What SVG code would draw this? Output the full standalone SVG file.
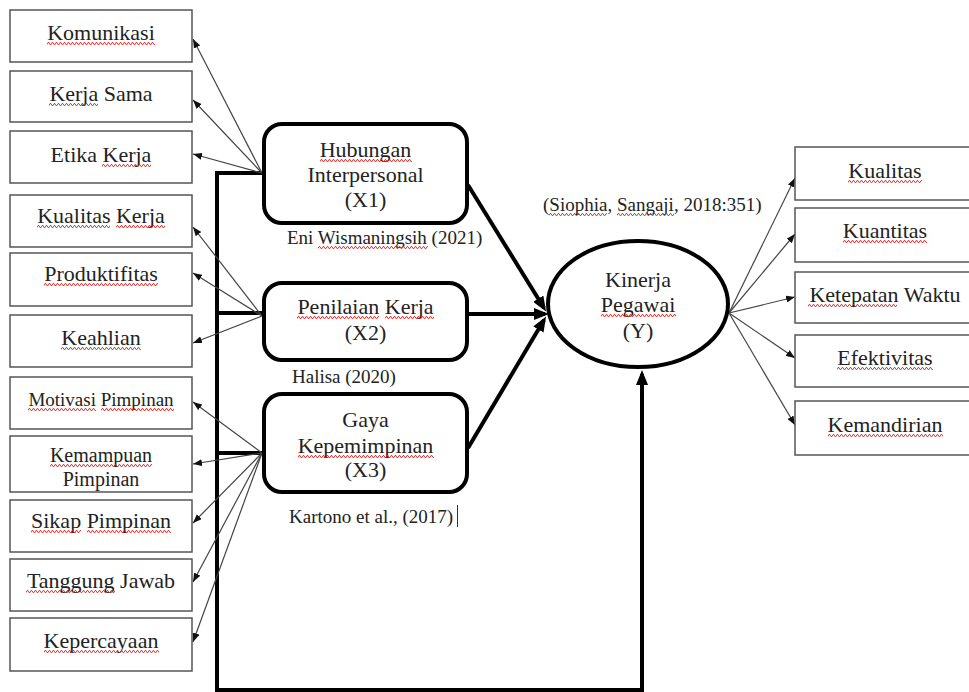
<svg xmlns="http://www.w3.org/2000/svg" width="969" height="692" viewBox="0 0 969 692">
<style>
text{font-family:"Liberation Serif","Times New Roman",serif;fill:#222;}
.t22{font-size:22px;text-anchor:middle;}
.t20{font-size:20px;text-anchor:middle;}
.t19{font-size:19px;}
.t19m{font-size:19px;text-anchor:middle;}
.ibox{fill:#fff;stroke:#555;stroke-width:1.5;}
.vbox{fill:#fff;stroke:#000;stroke-width:4;}
.thin{stroke:#444;stroke-width:1.2;fill:none;marker-end:url(#ah);}
.thick{stroke:#000;stroke-width:4;fill:none;}
.thicka{stroke:#000;stroke-width:4;fill:none;marker-end:url(#AH);}
.sq{fill:url(#sq);}
</style>
<defs>
<marker id="ah" markerUnits="userSpaceOnUse" markerWidth="9" markerHeight="7" refX="9" refY="3.5" orient="auto"><path d="M0,0 L9,3.5 L0,7 z" fill="#111"/></marker>
<marker id="AH" markerUnits="userSpaceOnUse" markerWidth="15" markerHeight="12" refX="11" refY="6" orient="auto"><path d="M0,0 L15,6 L0,12 z" fill="#000"/></marker>
<pattern id="sq" patternUnits="userSpaceOnUse" width="4" height="3"><polyline points="0,2.6 1,0.6 2,0.6 3,2.6 4,2.6" fill="none" stroke="#e02020" stroke-width="0.9"/></pattern>
<clipPath id="kc"><rect x="10" y="436" width="182" height="56"/></clipPath>
</defs>

<g id="connectors">
<path class="thick" d="M264,173 H217 V690 H642 V380"/>
<path class="thicka" d="M642,386 V374"/>
<line class="thick" x1="217" y1="313" x2="264" y2="313"/>
<line class="thick" x1="217" y1="453" x2="264" y2="453"/>
<line class="thicka" x1="468" y1="185" x2="544" y2="308"/>
<line class="thicka" x1="468" y1="314" x2="545" y2="314"/>
<line class="thicka" x1="468" y1="448" x2="544" y2="320"/>
<line class="thin" x1="262" y1="173" x2="193" y2="39"/>
<line class="thin" x1="262" y1="173" x2="193" y2="100"/>
<line class="thin" x1="262" y1="173" x2="193" y2="154"/>
<line class="thin" x1="262" y1="316" x2="193" y2="227"/>
<line class="thin" x1="262" y1="316" x2="193" y2="273"/>
<line class="thin" x1="262" y1="316" x2="193" y2="343"/>
<line class="thin" x1="262" y1="453" x2="193" y2="402"/>
<line class="thin" x1="262" y1="453" x2="193" y2="464"/>
<line class="thin" x1="262" y1="453" x2="193" y2="523"/>
<line class="thin" x1="262" y1="453" x2="193" y2="582"/>
<line class="thin" x1="262" y1="453" x2="193" y2="642"/>
<line class="thin" x1="729" y1="313" x2="795" y2="178"/>
<line class="thin" x1="729" y1="313" x2="795" y2="234"/>
<line class="thin" x1="729" y1="313" x2="795" y2="297"/>
<line class="thin" x1="729" y1="313" x2="795" y2="358"/>
<line class="thin" x1="729" y1="313" x2="795" y2="425"/>
</g>

<g id="n-komunikasi"><rect class="ibox" x="10" y="10" width="182" height="52"/><text class="t22" x="101" y="40">Komunikasi</text><rect class="sq" transform="translate(47,42)" width="108" height="3"/></g>
<g id="n-kerjasama"><rect class="ibox" x="10" y="71" width="182" height="51"/><text class="t22" x="101" y="101">Kerja Sama</text><rect class="sq" transform="translate(49,103)" width="49" height="3"/></g>
<g id="n-etika"><rect class="ibox" x="10" y="131" width="182" height="52"/><text class="t22" x="101" y="162">Etika Kerja</text><rect class="sq" transform="translate(102,164)" width="49" height="3"/></g>
<g id="n-kualitaskerja"><rect class="ibox" x="10" y="195" width="182" height="52"/><text class="t22" x="101" y="223">Kualitas Kerja</text><rect class="sq" transform="translate(37,225)" width="73" height="3"/><rect class="sq" transform="translate(116,225)" width="49" height="3"/></g>
<g id="n-produktifitas"><rect class="ibox" x="10" y="253" width="182" height="53"/><text class="t22" x="101" y="281">Produktifitas</text><rect class="sq" transform="translate(44,283)" width="114" height="3"/></g>
<g id="n-keahlian"><rect class="ibox" x="10" y="315" width="182" height="52"/><text class="t22" x="101" y="345">Keahlian</text><rect class="sq" transform="translate(61,347)" width="80" height="3"/></g>
<g id="n-motivasi"><rect class="ibox" x="10" y="377" width="182" height="52"/><text class="t19m" x="101" y="406">Motivasi Pimpinan</text><rect class="sq" transform="translate(28,408)" width="68" height="3"/><rect class="sq" transform="translate(101,408)" width="73" height="3"/></g>
<g id="n-kemampuan"><rect class="ibox" x="10" y="436" width="182" height="56"/><g clip-path="url(#kc)"><text class="t20" x="101" y="462">Kemampuan</text><text class="t20" x="101" y="486">Pimpinan</text></g><rect class="sq" transform="translate(50,464)" width="102" height="3"/></g>
<g id="n-sikap"><rect class="ibox" x="10" y="500" width="182" height="52"/><text class="t22" x="101" y="528">Sikap Pimpinan</text><rect class="sq" transform="translate(31,530)" width="50" height="3"/><rect class="sq" transform="translate(87,530)" width="84" height="3"/></g>
<g id="n-tanggung"><rect class="ibox" x="10" y="559" width="182" height="52"/><text class="t22" x="101" y="588">Tanggung Jawab</text><rect class="sq" transform="translate(26,590)" width="89" height="3"/></g>
<g id="n-kepercayaan"><rect class="ibox" x="10" y="618" width="182" height="53"/><text class="t22" x="101" y="648">Kepercayaan</text><rect class="sq" transform="translate(44,650)" width="115" height="3"/></g>

<g id="n-x1"><rect class="vbox" x="264" y="124" width="203" height="99" rx="18"/><text class="t22" x="365.5" y="157">Hubungan</text><text class="t22" x="365.5" y="182">Interpersonal</text><text class="t22" x="365.5" y="207">(X1)</text><rect class="sq" transform="translate(320,159)" width="92" height="3"/></g>
<g id="n-x2"><rect class="vbox" x="264" y="283" width="203" height="77" rx="18"/><text class="t22" x="365.5" y="314">Penilaian Kerja</text><text class="t22" x="365.5" y="340">(X2)</text><rect class="sq" transform="translate(297,316)" width="82" height="3"/><rect class="sq" transform="translate(385,316)" width="49" height="3"/></g>
<g id="n-x3"><rect class="vbox" x="264" y="394" width="203" height="98" rx="18"/><text class="t22" x="365.5" y="427">Gaya</text><text class="t22" x="365.5" y="453">Kepemimpinan</text><text class="t22" x="365.5" y="477">(X3)</text><rect class="sq" transform="translate(298,455)" width="136" height="3"/></g>

<g id="labels">
<text class="t19" x="287" y="244">Eni Wismaningsih (2021)</text><rect class="sq" transform="translate(318,246)" width="110" height="3"/>
<text class="t19" x="292" y="383">Halisa (2020)</text>
<text class="t19" x="289" y="523">Kartono et al., (2017)</text>
<line x1="457.5" y1="505" x2="457.5" y2="527" stroke="#333" stroke-width="1"/>
<text class="t19" x="543" y="211">(Siophia, Sangaji, 2018:351)</text><rect class="sq" transform="translate(549,213)" width="58" height="3"/><rect class="sq" transform="translate(617,213)" width="57" height="3"/>
</g>

<g id="n-y"><ellipse cx="638" cy="304" rx="90" ry="63" fill="#fff" stroke="#000" stroke-width="4"/><text class="t22" x="638" y="287">Kinerja</text><text class="t22" x="638" y="312">Pegawai</text><text class="t22" x="638" y="338">(Y)</text><rect class="sq" transform="translate(601,314)" width="75" height="3"/></g>

<g id="n-kualitas"><rect class="ibox" x="795" y="147" width="190" height="53"/><text class="t22" x="885" y="178">Kualitas</text><rect class="sq" transform="translate(848,180)" width="74" height="3"/></g>
<g id="n-kuantitas"><rect class="ibox" x="795" y="208" width="190" height="54"/><text class="t22" x="885" y="238">Kuantitas</text><rect class="sq" transform="translate(843,240)" width="84" height="3"/></g>
<g id="n-ketepatan"><rect class="ibox" x="795" y="272" width="190" height="51"/><text class="t22" x="885" y="302">Ketepatan Waktu</text><rect class="sq" transform="translate(808,304)" width="89" height="3"/></g>
<g id="n-efektivitas"><rect class="ibox" x="795" y="335" width="190" height="52"/><text class="t22" x="885" y="365">Efektivitas</text><rect class="sq" transform="translate(837,367)" width="96" height="3"/></g>
<g id="n-kemandirian"><rect class="ibox" x="795" y="401" width="190" height="54"/><text class="t22" x="885" y="432">Kemandirian</text><rect class="sq" transform="translate(828,434)" width="115" height="3"/></g>
</svg>
